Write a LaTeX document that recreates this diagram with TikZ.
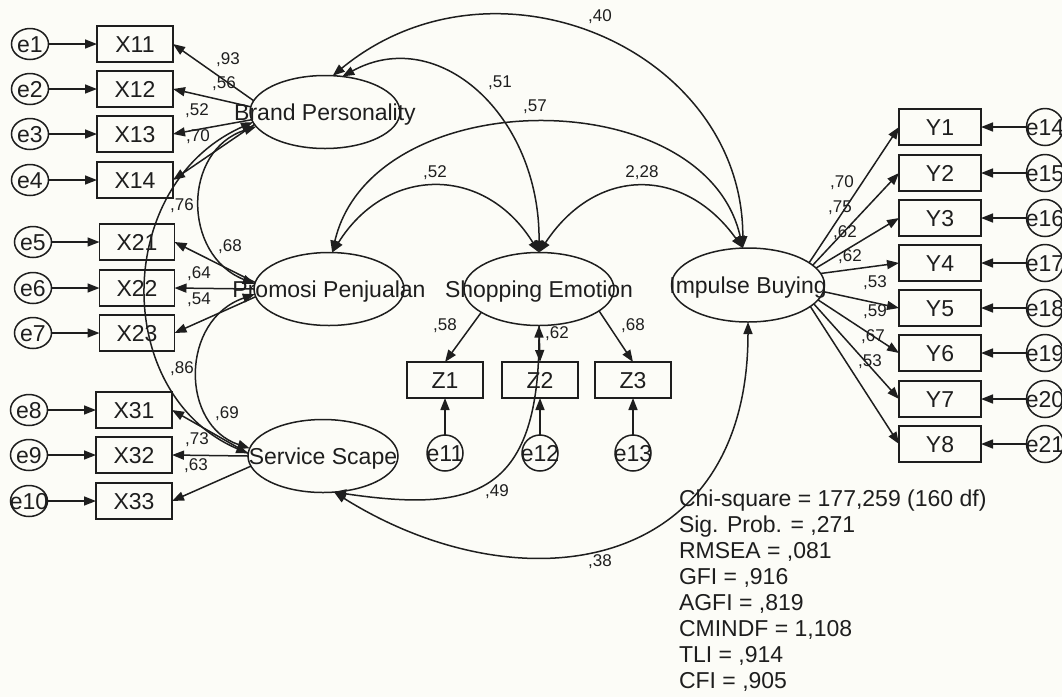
\documentclass[tikz,border=0pt]{standalone}
\usepackage{fontspec}
\setmainfont{Liberation Sans}
\usetikzlibrary{arrows.meta,shapes.geometric}
\definecolor{paper}{RGB}{252,252,247}
\definecolor{ink}{RGB}{30,30,30}
\newcommand\zw[1]{\makebox[0pt]{#1}}

\begin{document}
\begin{tikzpicture}[x=1pt,y=-1pt,
  every node/.style={inner sep=0pt, outer sep=0pt, text=ink},
  bigtext/.style={font=\fontsize{23}{26}\selectfont, text height=16.5pt, text depth=0pt},
  obs/.style={bigtext, draw=ink, line width=1.5pt, rectangle, minimum width=76pt, minimum height=36pt},
  obsy/.style={obs, minimum width=82pt},
  errl/.style={bigtext, draw=ink, line width=1.5pt, ellipse, minimum width=37pt, minimum height=31pt},
  errc/.style={bigtext, draw=ink, line width=1.5pt, circle, minimum size=36pt},
  latent/.style={bigtext, draw=ink, line width=1.5pt, ellipse, minimum width=150pt, minimum height=73pt},
  coef/.style={font=\fontsize{17}{19}\selectfont},
  stat/.style={font=\fontsize{23}{26}\selectfont, anchor=base west},
  arr/.style={draw=ink, line width=1.5pt, -{Triangle[length=12pt,width=9pt]}},
  cov/.style={draw=ink, line width=1.5pt, {Triangle[length=12pt,width=9pt]}-{Triangle[length=12pt,width=9pt]}},
]
\useasboundingbox (0,0) rectangle (1062,697);
\fill[paper] (0,0) rectangle (1062,697);
\clip (0,0) rectangle (1062,697);

% ---------- latent variables ----------
\node[latent] (BP) at (325,112) {\zw{Brand Personality}};
\node[latent] (PP) at (329,289) {\zw{Promosi Penjualan}};
\node[latent] (SE) at (539,289) {\zw{Shopping Emotion}};
\node[latent, minimum width=153pt, minimum height=74pt] (IB) at (748,285) {\zw{Impulse Buying}};
\node[latent] (SS) at (323,456) {\zw{Service Scape}};

% ---------- indicators, left block ----------
\foreach \n/\y in {11/44,12/89,13/134,14/180} \node[obs] (X\n) at (135,\y) {X\n};
\foreach \n/\y in {21/242,22/288,23/333} \node[obs, minimum width=75pt] (X\n) at (137,\y) {X\n};
\foreach \n/\y in {31/410,32/455,33/501} \node[obs] (X\n) at (134,\y) {X\n};

\foreach \n/\y in {1/44,2/89,3/134,4/180} \node[errl] (e\n) at (30,\y) {\zw{e\n}};
\foreach \n/\y in {5/242,6/288,7/333} \node[errl] (e\n) at (33,\y) {\zw{e\n}};
\foreach \n/\y in {8/410,9/455,10/501} \node[errl] (e\n) at (29,\y) {\zw{e\n}};

\foreach \e/\x in {1/11,2/12,3/13,4/14,5/21,6/22,7/23,8/31,9/32,10/33}
  \draw[arr] (e\e) -- (X\x);

% ---------- indicators of Shopping Emotion ----------
\node[obs] (Z1) at (445,380) {Z1};
\node[obs] (Z2) at (540,380) {Z2};
\node[obs] (Z3) at (633,380) {Z3};
\node[errc] (e11) at (445,453) {\zw{e11}};
\node[errc] (e12) at (540,453) {\zw{e12}};
\node[errc] (e13) at (633,453) {\zw{e13}};
\draw[arr] (e11) -- (Z1);
\draw[arr] (e12) -- (Z2);
\draw[arr] (e13) -- (Z3);

% ---------- indicators of Impulse Buying ----------
\foreach \k/\y in {1/127,2/173,3/218,4/263,5/308,6/353,7/399,8/444} {
  \node[obsy] (Y\k) at (940,\y) {Y\k};
}
\foreach \k/\e/\y in {1/14/127,2/15/173,3/16/218,4/17/263,5/18/308,6/19/353,7/20/399,8/21/444} {
  \node[errc, minimum size=37pt] (e\e) at (1045,\y) {\zw{e\e}};
  \draw[arr] (e\e) -- (Y\k);
}

% ---------- loadings ----------
\draw[arr] (BP.171) -- (X11.east);
\draw[arr] (BP.176) -- (X12.east);
\draw[arr] (BP.186) -- (X13.east);
\draw[arr] (BP.190) -- (X14.east);
\draw[arr] (PP.175) -- (X21.east);
\draw[arr] (PP.180) -- (X22.east);
\draw[arr] (PP.186) -- (X23.east);
\draw[arr] (SS.178) -- (X31.east);
\draw[arr] (SS.180) -- (X32.east);
\draw[arr] (SS.188) -- (X33.east);
\draw[arr] (SE.202) -- (Z1.north);
\draw[arr] (SE.south) -- (Z2.north);
\draw[arr] (SE.340) -- (Z3.north);
\draw[arr] (IB.20)  -- (Y1.west);
\draw[arr] (IB.17)  -- (Y2.west);
\draw[arr] (IB.14)  -- (Y3.west);
\draw[arr] (IB.9)   -- (Y4.west);
\draw[arr] (IB.-5)  -- (Y5.west);
\draw[arr] (IB.-12) -- (Y6.west);
\draw[arr] (IB.-16) -- (Y7.west);
\draw[arr] (IB.-19) -- (Y8.west);

% ---------- curved two-headed links ----------
\draw[cov] (BP.78) .. controls (495,-58) and (743,50) .. (IB.98);
\draw[cov] (BP.64) .. controls (438,24) and (540,115) .. (SE.north);
\draw[cov] (PP.85) .. controls (372,82) and (705,80) .. (IB.98);
\draw[cov] (PP.85) .. controls (387,165) and (485,165) .. (SE.north);
\draw[cov] (SE.north) .. controls (596,166) and (684,166) .. (IB.98);
\draw[cov] (BP.192) .. controls (182,150) and (182,255) .. (PP.176);
\draw[cov] (PP.184) .. controls (180,320) and (180,425) .. (SS.174);
\draw[cov] (BP.188) .. controls (112,185) and (112,395) .. (SS.178);
\draw[cov] (SS.-73) .. controls (470,512) and (539,498) .. (SE.south);
\draw[cov] (SS.-73) .. controls (519,608) and (748,576) .. (IB.south);

% ---------- estimates ----------
\node[coef] (c1) at (228,60) {,93};
\node[coef] (c2) at (224,84) {,56};
\node[coef] (c3) at (197,111) {,52};
\node[coef] (c4) at (198,137) {,70};
\node[coef] (c5) at (182,206) {,76};
\node[coef] (c6) at (230,247) {,68};
\node[coef] (c7) at (199,274) {,64};
\node[coef] (c8) at (199,300) {,54};
\node[coef] (c9) at (182,369) {,86};
\node[coef] (c10) at (227,414) {,69};
\node[coef] (c11) at (197,440) {,73};
\node[coef] (c12) at (196,466) {,63};
\node[coef] (c13) at (600,17) {,40};
\node[coef] (c14) at (500,83) {,51};
\node[coef] (c15) at (535,107) {,57};
\node[coef] (c16) at (435,173) {,52};
\node[coef] (c17) at (642,173) {2,28};
\node[coef] (c18) at (445,326) {,58};
\node[coef] (c19) at (557,334) {,62};
\node[coef] (c20) at (633,326) {,68};
\node[coef] (c21) at (497,492) {,49};
\node[coef] (c22) at (600,562) {,38};
\node[coef] (c23) at (842,183) {,70};
\node[coef] (c24) at (840,208) {,75};
\node[coef] (c25) at (845,233) {,62};
\node[coef] (c26) at (850,257) {,62};
\node[coef] (c27) at (875,283) {,53};
\node[coef] (c28) at (875,312) {,59};
\node[coef] (c29) at (873,337) {,67};
\node[coef] (c30) at (870,362) {,53};

% ---------- fit summary ----------
\node[stat] (s1) at (679,506) {Chi-square = 177,259 (160 df)};
\node[stat] (s2) at (679,532) {Sig. Prob. = ,271};
\node[stat] (s3) at (679,558) {RMSEA = ,081};
\node[stat] (s4) at (679,584) {GFI = ,916};
\node[stat] (s5) at (679,610) {AGFI = ,819};
\node[stat] (s6) at (679,636) {CMINDF = 1,108};
\node[stat] (s7) at (679,662) {TLI = ,914};
\node[stat] (s8) at (679,688) {CFI = ,905};
\end{tikzpicture}
\end{document}
